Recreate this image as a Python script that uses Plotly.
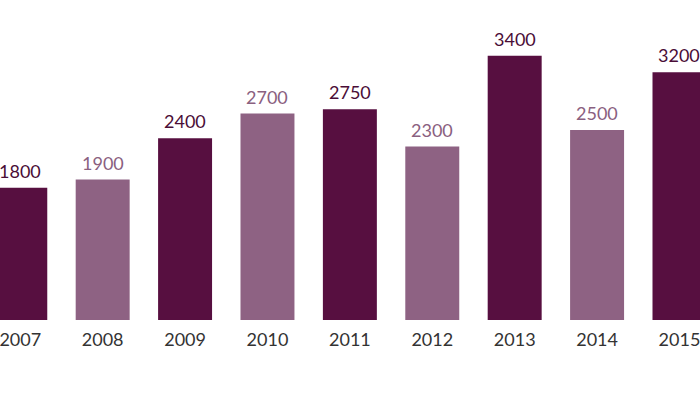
import plotly.graph_objects as go

years = ["2007", "2008", "2009", "2010", "2011", "2012", "2013", "2014", "2015"]
values = [1800, 1900, 2400, 2700, 2750, 2300, 3400, 2500, 3200]
shade = ["dark", "light", "dark", "light", "dark", "light", "dark", "light", "dark"]

DARK = "#570f40"
LIGHT = "#8e6283"
bar_colors = [DARK if s == "dark" else LIGHT for s in shade]
label_colors = ["#4a0d37" if s == "dark" else "#8a6080" for s in shade]

fig = go.Figure()
fig.add_trace(go.Bar(
    x=years, y=values, marker=dict(color=bar_colors, line=dict(width=0)),
    hoverinfo="skip",
))

for i, (v, c) in enumerate(zip(values, label_colors)):
    fig.add_annotation(
        x=i, y=v, xref="x", yref="y", text=str(v), showarrow=False,
        yanchor="bottom", yshift=4,
        font=dict(family="Lato", size=18, color=c),
    )

fig.update_layout(
    width=700, height=395,
    margin=dict(l=0, r=0, t=0, b=75),
    paper_bgcolor="white", plot_bgcolor="white",
    bargap=0.345,
    showlegend=False,
    xaxis=dict(type="category", range=[-0.246, 8.249], showgrid=False,
               showline=False, zeroline=False, ticks="", ticklabelstandoff=7,
               tickfont=dict(family="Lato", size=18, color="#333333")),
    yaxis=dict(range=[200, 4074], visible=False, showgrid=False, zeroline=False),
)

fig.write_html("out.html", config={"displayModeBar": False, "staticPlot": True})

with open("out.html", "r", encoding="utf-8") as f:
    html = f.read()
html = html.replace("<head>", "<head><style>html,body{margin:0;padding:0;overflow:hidden;}</style>", 1)
with open("out.html", "w", encoding="utf-8") as f:
    f.write(html)
